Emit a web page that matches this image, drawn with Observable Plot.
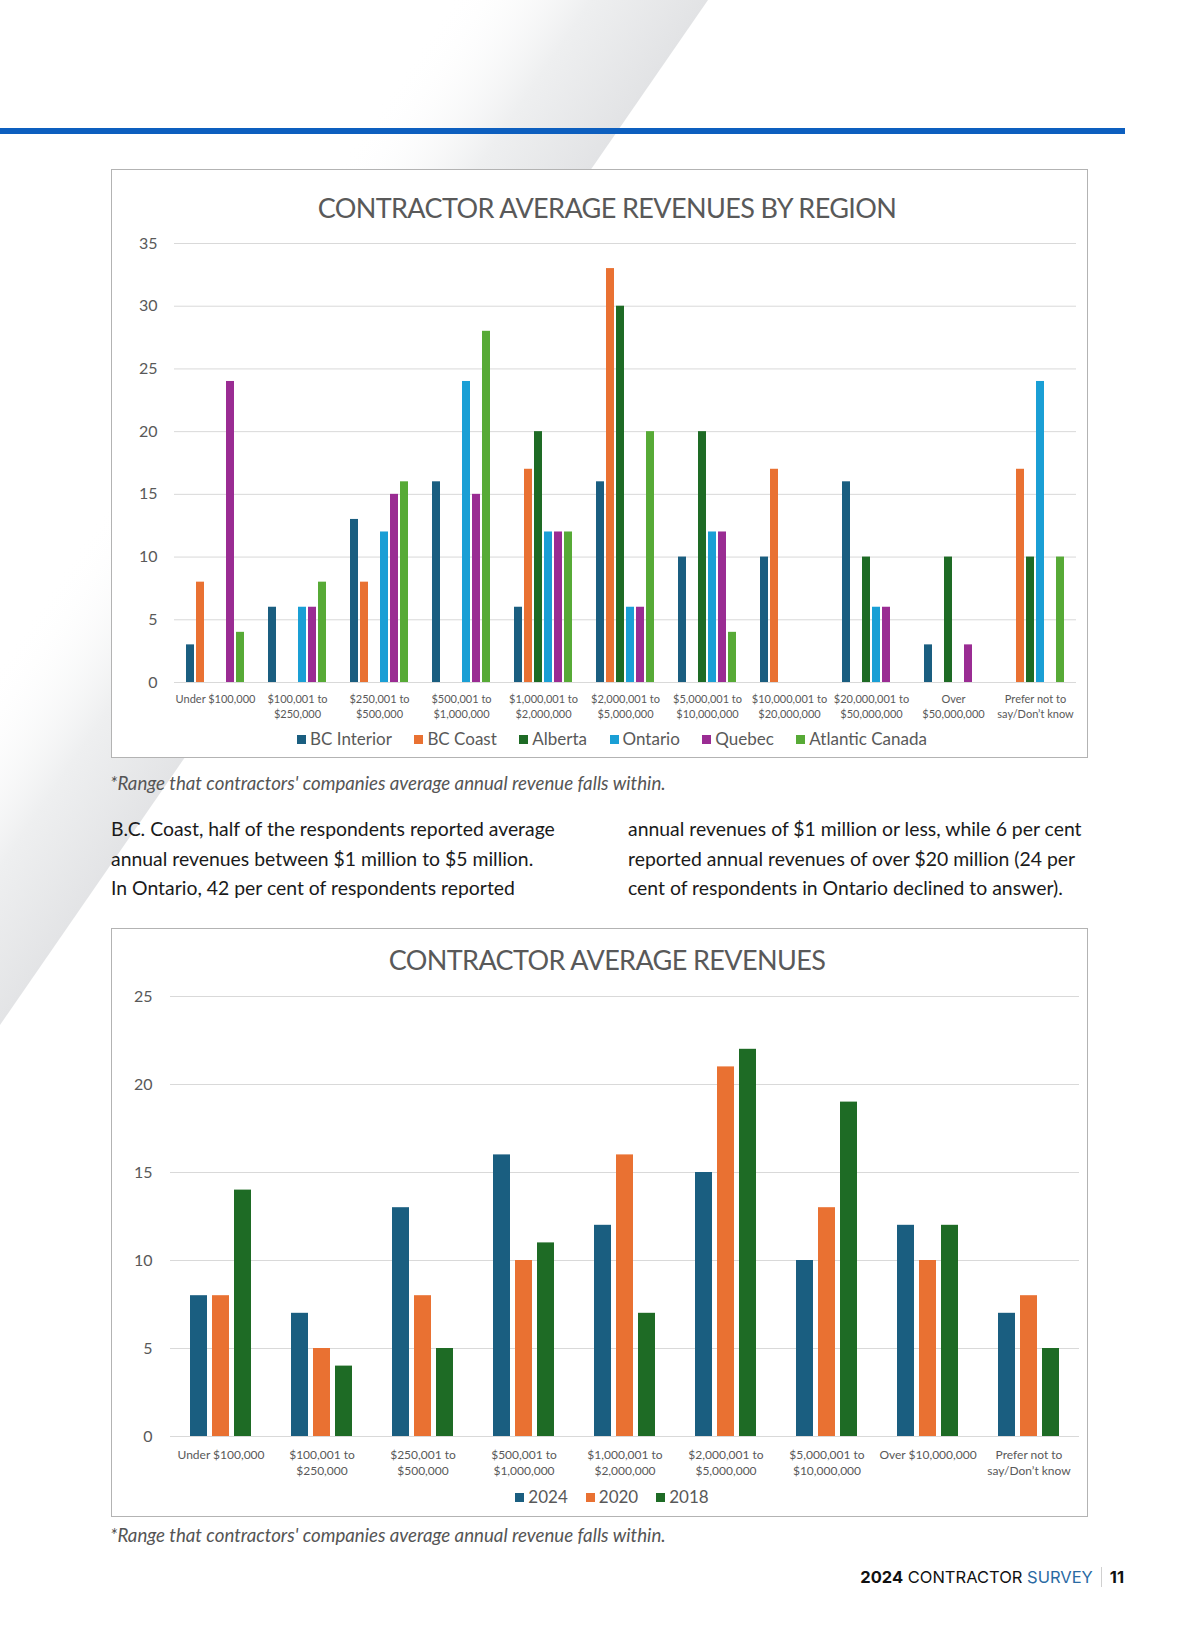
<!DOCTYPE html>
<html>
<head>
<meta charset="utf-8">
<script src="https://cdn.jsdelivr.net/npm/d3@7"></script>
<script src="https://cdn.jsdelivr.net/npm/@observablehq/plot@0.6"></script>
<style>
html, body { margin: 0; padding: 0; background: #fff; }
#page { position: relative; width: 1200px; height: 1631px; overflow: hidden; font-family: Lato, sans-serif; background: #fff; }
.abs { position: absolute; }
.frame { position: absolute; box-sizing: border-box; border: 1.5px solid #b3b3b3; background: #fff; }
.title { position: absolute; left: 0; width: 1214px; text-align: center; font-size: 27px; letter-spacing: -0.6px; line-height: 28px; color: #595959; white-space: nowrap; }
.legend { position: absolute; left: 0; width: 1224px; display: flex; justify-content: center; align-items: center; font-size: 17px; line-height: 20px; color: #595959; white-space: nowrap; }
.legend .item { display: flex; align-items: center; }
.legend .sw { width: 9px; height: 9px; margin-right: 4px; display: inline-block; }
.caption { position: absolute; left: 110px; font-style: italic; font-size: 18.7px; line-height: 20px; color: #555; white-space: nowrap; }
.para { position: absolute; font-size: 19.4px; line-height: 29.5px; color: #1a1a1a; white-space: nowrap; }
.footer { position: absolute; right: 76px; top: 1566px; height: 22px; display: flex; align-items: center; font-family: Inter, sans-serif; font-size: 16.5px; color: #111; white-space: nowrap; }
.plotwrap { position: absolute; }
.plotwrap svg { overflow: visible; }
</style>
</head>
<body>
<div id="page">
  <svg class="abs" style="left:0;top:0" width="1200" height="1100">
    <defs>
      <linearGradient id="gband" gradientUnits="userSpaceOnUse" x1="450" y1="0" x2="626" y2="120">
        <stop offset="0" stop-color="#ffffff" stop-opacity="0"/>
        <stop offset="0.55" stop-color="#eeeff0"/>
        <stop offset="1" stop-color="#e2e3e5"/>
      </linearGradient>
    </defs>
    <polygon points="450,0 708,0 0,1025 0,657" fill="url(#gband)"/>
  </svg>
  <div class="abs" style="left:0;top:128px;width:1125px;height:6px;background:#0d5fbf;"></div>

  <div class="frame" style="left:111px;top:169px;width:977px;height:589px;"></div>
  <div class="title" style="top:194px;">CONTRACTOR AVERAGE REVENUES BY REGION</div>
  <div class="plotwrap" id="chart1" style="left:111px;top:230px;"></div>
  <div class="legend" id="legend1" style="top:729px;"></div>
  <div class="caption" style="top:773px;">*Range that contractors' companies average annual revenue falls within.</div>

  <div class="para" style="left:111px;top:814px;">B.C. Coast, half of the respondents reported average<br>annual revenues between $1 million to $5 million.<br>In Ontario, 42 per cent of respondents reported</div>
  <div class="para" style="left:628px;top:814px;">annual revenues of $1 million or less, while 6 per cent<br>reported annual revenues of over $20 million (24 per<br>cent of respondents in Ontario declined to answer).</div>

  <div class="frame" style="left:111px;top:928px;width:977px;height:589px;"></div>
  <div class="title" style="top:946px;">CONTRACTOR AVERAGE REVENUES</div>
  <div class="plotwrap" id="chart2" style="left:111px;top:985px;"></div>
  <div class="legend" id="legend2" style="top:1487px;"></div>
  <div class="caption" style="top:1525px;">*Range that contractors' companies average annual revenue falls within.</div>

  <div class="footer">
    <span style="font-weight:700">2024</span><span>&nbsp;CONTRACTOR&nbsp;</span><span style="color:#2a6aa3">SURVEY</span>
    <span style="display:inline-block;width:1px;height:20px;background:#d0d0d0;margin:0 8px 0 8px;"></span>
    <span style="font-weight:700">11</span>
  </div>
</div>

<script>
// ---------- Chart 1 data ----------
const categories1 = [
  "Under $100,000",
  "$100,001 to\n$250,000",
  "$250,001 to\n$500,000",
  "$500,001 to\n$1,000,000",
  "$1,000,001 to\n$2,000,000",
  "$2,000,001 to\n$5,000,000",
  "$5,000,001 to\n$10,000,000",
  "$10,000,001 to\n$20,000,000",
  "$20,000,001 to\n$50,000,000",
  "Over\n$50,000,000",
  "Prefer not to\nsay/Don\u2019t know"
];
const regions = ["BC Interior", "BC Coast", "Alberta", "Ontario", "Quebec", "Atlantic Canada"];
const regionColors = ["#1a5e80", "#e97132", "#1e6b25", "#1a9fd5", "#9a2c93", "#57aa36"];
const bcInterior     = [3, 6, 13, 16, 6, 16, 10, 10, 16, 3, 0];
const bcCoast        = [8, 0, 8, 0, 17, 33, 0, 17, 0, 0, 17];
const alberta        = [0, 0, 0, 0, 20, 30, 20, 0, 10, 10, 10];
const ontario        = [0, 6, 12, 24, 12, 6, 12, 0, 6, 0, 24];
const quebec         = [24, 6, 15, 15, 12, 6, 12, 0, 6, 3, 0];
const atlanticCanada = [4, 8, 16, 28, 12, 20, 4, 0, 0, 0, 10];
const yTicks1 = [0, 5, 10, 15, 20, 25, 30, 35];

// ---------- Chart 2 data ----------
const categories2 = [
  "Under $100,000",
  "$100,001 to\n$250,000",
  "$250,001 to\n$500,000",
  "$500,001 to\n$1,000,000",
  "$1,000,001 to\n$2,000,000",
  "$2,000,001 to\n$5,000,000",
  "$5,000,001 to\n$10,000,000",
  "Over $10,000,000",
  "Prefer not to\nsay/Don\u2019t know"
];
const years = ["2024", "2020", "2018"];
const yearColors = ["#1a5e80", "#e97132", "#1e6b25"];
const y2024 = [8, 7, 13, 16, 12, 15, 10, 12, 7];
const y2020 = [8, 5, 8, 10, 16, 21, 13, 10, 8];
const y2018 = [14, 4, 5, 11, 7, 22, 19, 12, 5];
const yTicks2 = [0, 5, 10, 15, 20, 25];

// ---------- build tables ----------
const series1 = [bcInterior, bcCoast, alberta, ontario, quebec, atlanticCanada];
const data1 = [];
categories1.forEach((c, i) => regions.forEach((r, j) => {
  if (series1[j][i] > 0) data1.push({cat: c, series: r, value: series1[j][i]});
}));
const series2 = [y2024, y2020, y2018];
const data2 = [];
categories2.forEach((c, i) => years.forEach((r, j) => {
  if (series2[j][i] > 0) data2.push({cat: c, series: r, value: series2[j][i]});
}));

const baseStyle = {fontFamily: "Lato, sans-serif", fontSize: "16px", color: "#595959", background: "transparent", overflow: "visible"};

const chart1 = Plot.plot({
  width: 977, height: 497,
  marginLeft: 61, marginRight: 11, marginTop: 13, marginBottom: 45,
  style: baseStyle,
  fx: {domain: categories1, padding: 0, label: null},
  x: {domain: regions, paddingInner: 0.227, paddingOuter: 0.855, axis: null},
  y: {domain: [0, 35], label: null},
  color: {domain: regions, range: regionColors},
  marks: [
    Plot.gridY(yTicks1, {stroke: "#d9d9d9", strokeOpacity: 1, strokeWidth: 1}),
    Plot.axisY(yTicks1, {tickSize: 0, tickPadding: 17, fontSize: 16, label: null}),
    Plot.axisFx({anchor: "bottom", tickSize: 0, tickPadding: 10, fontSize: 11, lineHeight: 1.36, label: null}),
    Plot.barY(data1, {fx: "cat", x: "series", y: "value", fill: "series"})
  ]
});
document.getElementById("chart1").appendChild(chart1);

const chart2 = Plot.plot({
  width: 977, height: 496,
  marginLeft: 57, marginRight: 7, marginTop: 11, marginBottom: 45,
  style: baseStyle,
  fx: {domain: categories2, padding: 0, label: null},
  x: {domain: years, paddingInner: 0.244, paddingOuter: 0.875, axis: null},
  y: {domain: [0, 25], label: null},
  color: {domain: years, range: yearColors},
  marks: [
    Plot.gridY(yTicks2, {stroke: "#d9d9d9", strokeOpacity: 1, strokeWidth: 1}),
    Plot.axisY(yTicks2, {tickSize: 0, tickPadding: 18, fontSize: 16, label: null}),
    Plot.axisFx({anchor: "bottom", tickSize: 0, tickPadding: 11, fontSize: 12, lineHeight: 1.33, label: null}),
    Plot.barY(data2, {fx: "cat", x: "series", y: "value", fill: "series"})
  ]
});
document.getElementById("chart2").appendChild(chart2);

// ---------- legends ----------
function legend(el, names, colors, gap) {
  names.forEach((n, i) => {
    const item = document.createElement("span");
    item.className = "item";
    if (i > 0) item.style.marginLeft = gap + "px";
    const sw = document.createElement("span");
    sw.className = "sw";
    sw.style.background = colors[i];
    item.appendChild(sw);
    item.appendChild(document.createTextNode(n));
    el.appendChild(item);
  });
}
legend(document.getElementById("legend1"), regions, regionColors, 22.5);
legend(document.getElementById("legend2"), years, yearColors, 18);
</script>
</body>
</html>
